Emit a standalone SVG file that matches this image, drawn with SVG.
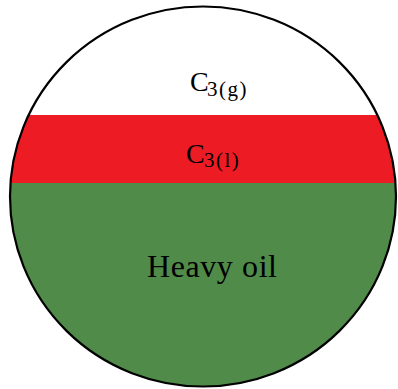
<svg xmlns="http://www.w3.org/2000/svg" width="398" height="389" viewBox="0 0 398 389">
<style>
.t{font-family:"Liberation Serif","Times New Roman",serif;fill:#000}
.big{font-size:28px}
.sub{font-size:21px;letter-spacing:1.5px}
</style>
<defs>
<clipPath id="cp"><ellipse cx="203" cy="196.5" rx="193" ry="190"/></clipPath>
</defs>
<rect width="398" height="389" fill="#fff"/>
<g id="tank">
<g clip-path="url(#cp)">
<rect x="0" y="0" width="398" height="389" fill="#fff"/>
<rect id="liquid" x="0" y="115" width="398" height="68" fill="#ED1C24"/>
<rect id="oil" x="0" y="183" width="398" height="206" fill="#508B49"/>
</g>
<ellipse cx="203" cy="196.5" rx="193" ry="190" fill="none" stroke="#000" stroke-width="2.2"/>
</g>
<g id="labels">
<text class="t big" x="190" y="91">C</text>
<text class="t sub" x="207" y="96">3(g)</text>
<text class="t big" x="186" y="163">C</text>
<text class="t sub" x="204" y="167">3(l)</text>
<text class="t" x="147" y="277" font-size="32" textLength="130" lengthAdjust="spacing">Heavy oil</text>
</g>
</svg>
